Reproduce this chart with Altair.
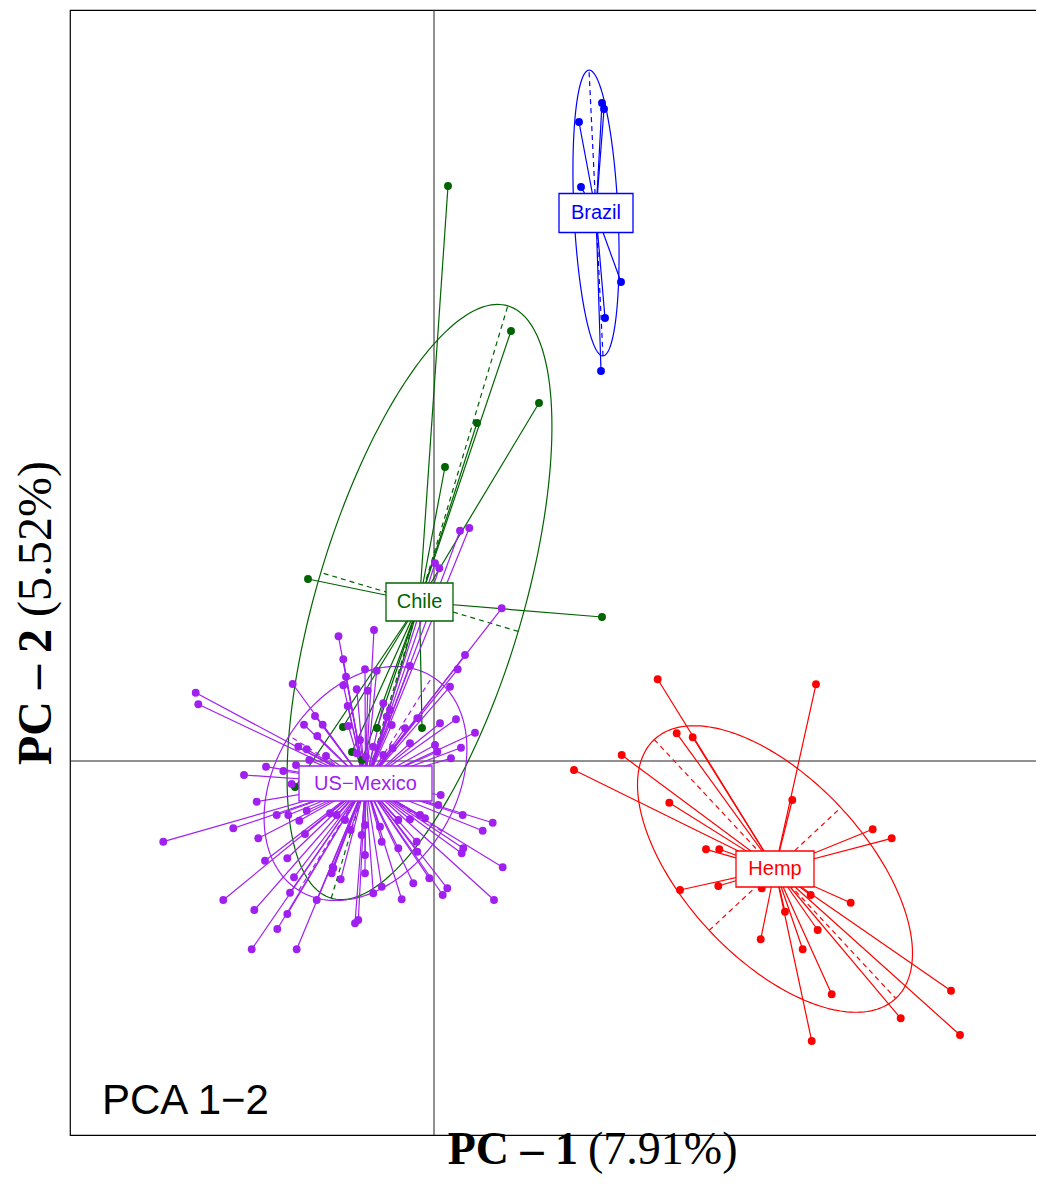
import numpy as np
import pandas as pd
import altair as alt

# ---------------- data (PC scores) ----------------
groups = ["Brazil", "Chile", "US-Mexico", "Hemp"]
labels = ["Brazil", "Chile", "US\u2212Mexico", "Hemp"]
colors = ["#0000FF", "#006400", "#A020F0", "#FF0000"]

brazil_pc1 = [1.68, 1.70, 1.45, 1.47, 1.87, 1.71, 1.67]
brazil_pc2 = [6.58, 6.52, 6.39, 5.74, 4.79, 4.43, 3.90]

chile_pc1 = [0.14, 0.77, 1.05, 0.43, 0.11, -1.26, 1.68, -0.91, -0.57, -0.12, -1.39,
             -0.82, -0.72, -0.62]
chile_pc2 = [5.75, 4.30, 3.58, 3.38, 2.94, 1.82, 1.44, 0.34, 0.33, 0.33, -0.26,
             0.09, 0.01, -0.09]

usmx_pc1 = [-2.383, -2.357, -1.413, -1.19, -1.113, -1.30, -1.167, -1.357, -1.273, -1.08,
            -1.247, -1.68, -1.507, -1.90, -1.38, -1.423, -0.955, -0.60, -0.907, -0.69,
            -0.573, -0.88, -0.907, -0.773, -0.663, -0.24, 0.237, 0.31, 0.16, -0.863,
            -0.507, -0.44, -0.473, -0.857, -0.423, -0.167, 0.06, 0.22, 0.41, -0.29,
            -0.24, 0.01, 0.033, 0.27, 0.17, -0.607, -0.74, -0.773, -0.68, -0.413,
            -0.507, 0.26, 0.353, 0.01, 0.053, 0.677, -1.773, -1.573, -1.457, -1.273,
            -1.347, -2.007, -2.707, -1.757, -1.29, -1.69, -1.467, -1.40, -2.107, -1.44,
            -1.797, -1.467, -1.567, -1.823, -1.373, -1.173, -1.013, -1.023, -1.04, 0.067,
            0.043, 0.287, 0.587, 0.487, -0.14, -0.09, -0.24, -0.357, 0.293, 0.277,
            0.687, -0.173, -0.167, -0.357, -0.047, 0.133, 0.087, 0.60, -0.207, -0.323,
            -0.523, -0.54, -0.69, -0.723, -0.69, -0.523, -0.607, -0.933, -1.007, -0.833,
            -0.973, -0.89, -0.79, -0.757, -0.69]
usmx_pc2 = [0.683, 0.567, 0.77, 0.45, 0.363, 0.363, 0.25, 0.143, 0.117, 0.05,
            0.01, -0.057, -0.10, -0.14, -0.04, -0.23, 1.247, 1.31, 1.017, 0.917,
            0.903, 0.843, 0.757, 0.717, 0.703, 0.95, 0.917, 1.06, 0.743, 0.55,
            0.577, 0.51, 0.443, 0.35, 0.36, 0.427, 0.377, 0.417, 0.283, 0.327,
            0.177, 0.16, 0.093, 0.133, 0.027, 0.143, 0.21, 0.077, 0.043, 0.127,
            0.06, 2.303, 2.33, 1.977, 1.927, 1.527, -0.407, -0.54, -0.54, -0.497,
            -0.597, -0.673, -0.807, -0.773, -0.73, -0.997, -0.973, -1.163, -1.39, -1.317,
            -1.49, -1.53, -1.68, -1.883, -1.883, -1.39, -1.063, -1.123, -0.523, -0.34,
            -0.44, -0.54, -0.617, -0.697, -0.54, -0.573, -0.583, -0.59, -0.873, -0.923,
            -1.063, -0.807, -0.907, -0.873, -1.173, -1.273, -1.34, -1.39, -1.223, -1.383,
            -0.807, -0.657, -0.94, -0.74, -1.123, -1.257, -1.323, -1.183, -1.073, -0.69,
            -0.54, -0.59, -1.623, -1.59, -0.64]

hemp_pc1 = [2.237, 3.82, 2.427, 2.587, 1.877, 1.40, 2.353, 3.583, 4.387, 4.577,
            2.72, 2.853, 2.46, 2.843, 3.277, 3.767, 4.167, 3.51, 3.267, 3.837,
            3.687, 3.977, 5.17, 4.667, 5.26, 3.777]
hemp_pc2 = [0.817, 0.767, 0.277, 0.237, 0.06, -0.09, -0.417, -0.39, -0.683, -0.773,
            -0.883, -0.883, -1.29, -1.25, -1.273, -1.34, -1.417, -1.507, -1.783, -1.69,
            -1.883, -2.333, -2.297, -2.573, -2.74, -2.80]

# group centroids (label positions) and inertia ellipses
centroid_pc1 = [1.62, -0.145, -0.685, 3.41]
centroid_pc2 = [5.48, 1.59, -0.225, -1.08]
ell_a = [1.43, 3.09, 1.26, 1.77]        # semi-major
ell_b = [0.22, 1.03, 0.90, 0.90]        # semi-minor
ell_angle = [92.8, 73.4, 58.0, -47.0]   # degrees

# ---------------- layout / style ----------------
W, H = 973, 1125
xdom = [-3.64, 6.09]
ydom = [-3.74, 7.51]
px = W / (xdom[1] - xdom[0])   # pixels per unit (same on both axes)
box_hw = [37, 33.5, 66.5, 39]   # label box half width (px)
box_hh = [19.5, 19, 17.5, 18]   # label box half height (px)

xs = alt.Scale(domain=xdom, nice=False, zero=False)
ys = alt.Scale(domain=ydom, nice=False, zero=False)
cscale = alt.Scale(domain=groups, range=colors)

# ---------------- build tables ----------------
series = {
    "Brazil": (brazil_pc1, brazil_pc2),
    "Chile": (chile_pc1, chile_pc2),
    "US-Mexico": (usmx_pc1, usmx_pc2),
    "Hemp": (hemp_pc1, hemp_pc2),
}
rows = []
for gi, g in enumerate(groups):
    p1, p2 = series[g]
    for a, b in zip(p1, p2):
        rows.append({"group": g, "pc1": a, "pc2": b,
                     "cx": centroid_pc1[gi], "cy": centroid_pc2[gi]})
pts = pd.DataFrame(rows)

erows, arows, brows = [], [], []
t = np.linspace(0, 2 * np.pi, 241)
for gi, g in enumerate(groups):
    cx, cy = centroid_pc1[gi], centroid_pc2[gi]
    a, b = ell_a[gi], ell_b[gi]
    th = np.deg2rad(ell_angle[gi])
    ux, uy = np.cos(th), np.sin(th)
    vx, vy = -np.sin(th), np.cos(th)
    for k, tt in enumerate(t):
        erows.append({"group": g, "k": k,
                      "ex": cx + a * np.cos(tt) * ux + b * np.sin(tt) * vx,
                      "ey": cy + a * np.cos(tt) * uy + b * np.sin(tt) * vy})
    arows.append({"group": g, "x": cx - a * ux, "y": cy - a * uy, "x2": cx + a * ux, "y2": cy + a * uy})
    arows.append({"group": g, "x": cx - b * vx, "y": cy - b * vy, "x2": cx + b * vx, "y2": cy + b * vy})
    brows.append({"group": g, "label": labels[gi], "cx": cx, "cy": cy,
                  "x1": cx - box_hw[gi] / px, "x2": cx + box_hw[gi] / px,
                  "y1": cy - box_hh[gi] / px, "y2": cy + box_hh[gi] / px})
ell = pd.DataFrame(erows)
axes_df = pd.DataFrame(arows)
boxes = pd.DataFrame(brows)

col = alt.Color("group:N", scale=cscale, legend=None)

zero_v = alt.Chart(pd.DataFrame({"v": [0.0]})).mark_rule(color="#222222", strokeWidth=1).encode(
    x=alt.X("v:Q", scale=xs, axis=None))
zero_h = alt.Chart(pd.DataFrame({"v": [0.0]})).mark_rule(color="#222222", strokeWidth=1).encode(
    y=alt.Y("v:Q", scale=ys, axis=None))

ellipses = alt.Chart(ell).mark_line(strokeWidth=1.2).encode(
    x=alt.X("ex:Q", scale=xs, axis=None),
    y=alt.Y("ey:Q", scale=ys, axis=None),
    detail="group:N", order="k:Q", color=col)

ell_axes = alt.Chart(axes_df).mark_rule(strokeWidth=1.2, strokeDash=[5, 4]).encode(
    x=alt.X("x:Q", scale=xs, axis=None), y=alt.Y("y:Q", scale=ys, axis=None),
    x2="x2:Q", y2="y2:Q", color=col)

stars = alt.Chart(pts).mark_rule(strokeWidth=1.2).encode(
    x=alt.X("cx:Q", scale=xs, axis=None), y=alt.Y("cy:Q", scale=ys, axis=None),
    x2="pc1:Q", y2="pc2:Q", color=col)

dots = alt.Chart(pts).mark_circle(size=62, opacity=1).encode(
    x=alt.X("pc1:Q", scale=xs, axis=None), y=alt.Y("pc2:Q", scale=ys, axis=None), color=col)

box = alt.Chart(boxes).mark_rect(fill="white", strokeWidth=1.3).encode(
    x=alt.X("x1:Q", scale=xs, axis=None), x2="x2:Q",
    y=alt.Y("y1:Q", scale=ys, axis=None), y2="y2:Q",
    stroke=alt.Stroke("group:N", scale=cscale, legend=None))

box_txt = alt.Chart(boxes).mark_text(font="Liberation Sans", fontSize=20, baseline="middle").encode(
    x=alt.X("cx:Q", scale=xs, axis=None), y=alt.Y("cy:Q", scale=ys, axis=None),
    text="label:N", color=col)

pca_lbl = alt.Chart(pd.DataFrame({"t": ["PCA 1\u22122"]})).mark_text(
    font="Liberation Sans", fontSize=42, align="left", baseline="alphabetic", color="black").encode(
    x=alt.value(32), y=alt.value(1104), text="t:N")

xt_b = alt.Chart(pd.DataFrame({"t": ["PC \u2013 1"]})).mark_text(
    font="Liberation Serif", fontSize=46, fontWeight="bold", align="right", baseline="alphabetic",
    color="black").encode(x=alt.value(508), y=alt.value(1154), text="t:N")
xt_n = alt.Chart(pd.DataFrame({"t": ["(7.91%)"]})).mark_text(
    font="Liberation Serif", fontSize=46, align="left", baseline="alphabetic",
    color="black").encode(x=alt.value(518), y=alt.value(1154), text="t:N")

yt_b = alt.Chart(pd.DataFrame({"t": ["PC \u2013 2"]})).mark_text(
    font="Liberation Serif", fontSize=48, fontWeight="bold", align="left", baseline="alphabetic",
    angle=270, color="black").encode(x=alt.value(-19), y=alt.value(755), text="t:N")
yt_n = alt.Chart(pd.DataFrame({"t": ["(5.52%)"]})).mark_text(
    font="Liberation Serif", fontSize=48, align="left", baseline="alphabetic",
    angle=270, color="black").encode(x=alt.value(-19), y=alt.value(607), text="t:N")

chart = alt.layer(
    zero_v, zero_h, ellipses, ell_axes, stars, dots, box, box_txt,
    pca_lbl, xt_b, xt_n, yt_b, yt_n
).properties(
    width=W, height=H,
    autosize=alt.AutoSizeParams(type="none"),
    padding={"left": 62, "top": 2, "right": -7, "bottom": 40},
    background="white",
).configure_view(stroke="black", strokeWidth=1.2)

chart.save("out.html", embed_options={"renderer": "svg", "actions": False})
